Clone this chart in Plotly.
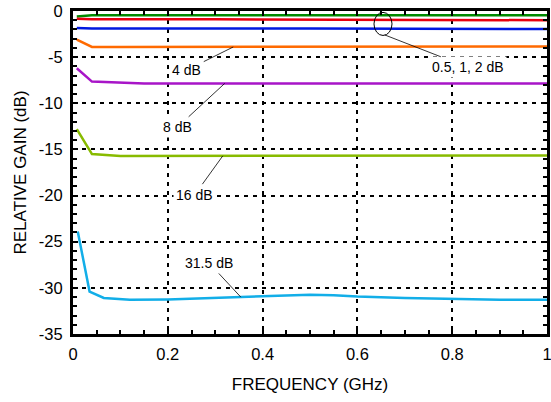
import plotly.graph_objects as go

# ---- data ----
freq_05 = [0.008, 0.04, 0.5, 1.0]
gain_05 = [-0.6, -0.45, -0.45, -0.45]
freq_1 = [0.008, 0.04, 0.3, 0.6, 1.0]
gain_1 = [-0.85, -0.9, -0.9, -0.95, -1.0]
freq_2 = [0.008, 0.04, 0.5, 1.0]
gain_2 = [-1.85, -1.9, -1.9, -1.95]
freq_4 = [0.008, 0.04, 0.1, 1.0]
gain_4 = [-3.1, -3.9, -3.9, -3.85]
freq_8 = [0.008, 0.04, 0.15, 1.0]
gain_8 = [-6.2, -7.65, -7.85, -7.85]
freq_16 = [0.008, 0.04, 0.1, 0.3, 1.0]
gain_16 = [-12.8, -15.5, -15.7, -15.7, -15.65]
freq_315 = [0.01, 0.035, 0.065, 0.12, 0.2, 0.3, 0.4, 0.5, 0.55, 0.6, 0.7, 0.8, 0.9, 1.0]
gain_315 = [-23.9, -30.4, -31.1, -31.3, -31.25, -31.1, -30.95, -30.75, -30.8, -30.95, -31.1, -31.2, -31.3, -31.3]

series = [
    ("0.5 dB", freq_05, gain_05, "#008a00"),
    ("1 dB", freq_1, gain_1, "#e80010"),
    ("2 dB", freq_2, gain_2, "#0018e0"),
    ("4 dB", freq_4, gain_4, "#ff6a00"),
    ("8 dB", freq_8, gain_8, "#a815c8"),
    ("16 dB", freq_16, gain_16, "#88bb00"),
    ("31.5 dB", freq_315, gain_315, "#12aee8"),
]

x_ticks = [0, 0.2, 0.4, 0.6, 0.8, 1]
x_tick_labels = ["0", "0.2", "0.4", "0.6", "0.8", "1"]
y_ticks = [0, -5, -10, -15, -20, -25, -30, -35]
y_tick_labels = ["0", "-5", "-10", "-15", "-20", "-25", "-30", "-35"]

font_family = "Liberation Sans, Arial, Helvetica, sans-serif"

fig = go.Figure()
for name, fx, gy, col in series:
    fig.add_trace(go.Scatter(x=fx, y=gy, mode="lines", name=name,
                             line=dict(color=col, width=2.5), showlegend=False,
                             hoverinfo="skip"))

# annotations: (text, text_x, text_y, point_x, point_y)
labels = [
    ("4 dB", 0.24, -6.4, 0.338, -3.9),
    ("8 dB", 0.22, -12.6, 0.32, -7.85),
    ("16 dB", 0.257, -19.9, 0.316, -15.7),
    ("31.5 dB", 0.287, -27.3, 0.354, -31.0),
    ("0.5, 1, 2 dB", 0.833, -6.1, 0.658, -2.6),
]
for txt, tx, ty, px, py in labels:
    fig.add_annotation(x=px, y=py, ax=tx, ay=ty, xref="x", yref="y",
                       axref="x", ayref="y", text=txt, showarrow=True,
                       arrowhead=0, arrowwidth=0.8, arrowcolor="black",
                       font=dict(size=14, color="black", family=font_family),
                       bgcolor="white", borderpad=2)

fig.add_shape(type="circle", xref="x", yref="y", x0=0.635, x1=0.673,
              y0=-2.65, y1=-0.15, line=dict(color="black", width=1))

axis_common = dict(
    showline=True, linewidth=3, linecolor="black", mirror="allticks",
    ticks="inside", ticklen=5, tickwidth=1.5, tickcolor="black",
    showgrid=True, gridcolor="black", gridwidth=1.8, griddash="4px,5px",
    zeroline=False, automargin=False, ticklabeloverflow="allow",
    tickfont=dict(size=16.5, color="black", family=font_family),
)

fig.update_xaxes(range=[0, 1], tickvals=x_ticks, ticktext=x_tick_labels,
                 ticklabelstandoff=3,
                 minor=dict(dtick=0.05, ticks="inside", ticklen=4, tickwidth=1.5,
                            tickcolor="black", showgrid=False),
                 title=dict(text="FREQUENCY (GHz)", standoff=17,
                            font=dict(size=17, color="black", family=font_family)),
                 **axis_common)
fig.update_yaxes(range=[-35, 0], tickvals=y_ticks, ticktext=y_tick_labels,
                 ticklabelstandoff=4,
                 minor=dict(dtick=1, ticks="inside", ticklen=4, tickwidth=1.5,
                            tickcolor="black", showgrid=False),
                 title=dict(text="RELATIVE GAIN (dB)", standoff=8,
                            font=dict(size=17, color="black", family=font_family)),
                 **axis_common)

fig.update_layout(width=551, height=402,
                  margin=dict(l=73, r=4, t=11, b=68),
                  plot_bgcolor="white", paper_bgcolor="white",
                  hovermode=False)

# remove the default page margin so the figure fills the window exactly
fig.write_html("out.html", config={"displayModeBar": False},
               post_script="document.body.style.margin='0';")
